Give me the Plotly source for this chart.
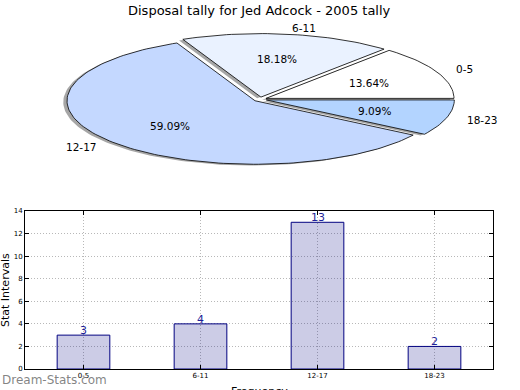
import numpy as np
import plotly.graph_objects as go

# ---- data ----
categories = ["0-5", "6-11", "12-17", "18-23"]
counts = [3, 4, 13, 2]
pie_colors = ["#ffffff", "#eaf2ff", "#c4d8ff", "#b3d4ff"]
title_text = "Disposal tally for Jed Adcock - 2005 tally"
y_ticks = [0, 2, 4, 6, 8, 10, 12, 14]

W, H = 520, 390
explode = 0.035
shadow_dx, shadow_dy = -0.02, -0.02

fig = go.Figure()

total = float(sum(counts))
fracs = [c / total for c in counts]
starts = np.concatenate([[0.0], np.cumsum(fracs)[:-1]]) * 360.0
ends = np.cumsum(fracs) * 360.0


def wedge(t1, t2, cx, cy):
    n = max(8, int((t2 - t1) / 1.5))
    th = np.radians(np.linspace(t1, t2, n))
    xs = np.concatenate([[cx], cx + np.cos(th), [cx]])
    ys = np.concatenate([[cy], cy + np.sin(th), [cy]])
    return xs, ys


offsets = []
for t1, t2 in zip(starts, ends):
    mid = np.radians((t1 + t2) / 2)
    offsets.append((explode * np.cos(mid), explode * np.sin(mid)))

# wedge shadows
for (t1, t2), (ox, oy) in zip(zip(starts, ends), offsets):
    xs, ys = wedge(t1, t2, ox + shadow_dx, oy + shadow_dy)
    fig.add_trace(go.Scatter(x=xs, y=ys, xaxis="x2", yaxis="y2", mode="lines",
                             fill="toself", fillcolor="rgba(77,77,77,0.5)",
                             line=dict(width=0), hoverinfo="skip", showlegend=False))
# wedges
for (t1, t2), (ox, oy), col in zip(zip(starts, ends), offsets, pie_colors):
    xs, ys = wedge(t1, t2, ox, oy)
    fig.add_trace(go.Scatter(x=xs, y=ys, xaxis="x2", yaxis="y2", mode="lines",
                             fill="toself", fillcolor=col,
                             line=dict(width=0.8, color="#000000"),
                             hoverinfo="skip", showlegend=False))

annotations = []
for (t1, t2), (ox, oy), cat, f in zip(zip(starts, ends), offsets, categories, fracs):
    mid = np.radians((t1 + t2) / 2)
    px, py = ox + 0.6 * np.cos(mid), oy + 0.6 * np.sin(mid)
    annotations.append(dict(x=px, y=py, xref="x2", yref="y2", text=f"{f*100:.2f}%",
                            showarrow=False, xanchor="center", yanchor="middle",
                            font=dict(size=10.5, color="#000000")))
    lx, ly = ox + 1.1 * np.cos(mid), oy + 1.1 * np.sin(mid)
    annotations.append(dict(x=lx, y=ly, xref="x2", yref="y2", text=cat,
                            showarrow=False,
                            xanchor="left" if np.cos(mid) > 0 else "right",
                            yanchor="middle",
                            font=dict(size=10.5, color="#000000")))

# bars
fig.add_trace(go.Bar(x=categories, y=counts, width=0.45,
                     marker=dict(color="rgba(0,0,128,0.2)",
                                 line=dict(color="#000080", width=1)),
                     hoverinfo="skip", showlegend=False))
for cat, v in zip(categories, counts):
    annotations.append(dict(x=cat, y=v, xref="x", yref="y", text=str(v),
                            showarrow=False, xanchor="center", yanchor="bottom",
                            yshift=-4, font=dict(size=11, color="#1f1f99")))

annotations.append(dict(x=0.5, y=1 - 10 / H, xref="paper", yref="paper", text=title_text,
                        showarrow=False, xanchor="center", yanchor="middle",
                        xshift=-1, font=dict(size=13, color="#000000")))
annotations.append(dict(x=259 / W, y=1 - 383 / H, xref="paper", yref="paper",
                        text="Frequency", showarrow=False, xanchor="center",
                        yanchor="top", font=dict(size=11, color="#000000")))
annotations.append(dict(x=5 / W, y=1 - 290 / H, xref="paper", yref="paper",
                        text="Stat Intervals", textangle=-90, showarrow=False,
                        xanchor="center", yanchor="middle",
                        font=dict(size=11, color="#000000")))
annotations.append(dict(x=0, y=1 - 380 / H, xref="paper", yref="paper",
                        text="Dream-Stats.com", showarrow=False, xanchor="left",
                        yanchor="middle", font=dict(size=12, color="rgba(110,110,110,0.85)")))

a_px, b_px = 188.0, 63.5
cx_px, cy_px = 260.0, 99.3
pie_top, pie_bot = 0.0, 200.0

axis_common = dict(showline=True, linecolor="#000000", linewidth=1, mirror="ticks",
                   ticks="inside", ticklen=4, tickcolor="#000000",
                   showgrid=True, gridcolor="#b8b8b8", griddash="1px,2px", gridwidth=1,
                   zeroline=False, tickfont=dict(size=7, color="#000000"))

fig.update_layout(
    width=W, height=H, margin=dict(l=0, r=0, t=0, b=0),
    paper_bgcolor="#ffffff", plot_bgcolor="#ffffff",
    font=dict(family="DejaVu Sans"),
    showlegend=False,
    xaxis=dict(domain=[25 / W, 493 / W], type="category", range=[-0.5, 3.5],
               anchor="y", automargin=False, **axis_common),
    yaxis=dict(domain=[1 - 369 / H, 1 - 211 / H], range=[0, 14], tickvals=y_ticks,
               anchor="x", automargin=False, **axis_common),
    xaxis2=dict(domain=[0, 1], range=[-cx_px / a_px, (W - cx_px) / a_px],
                visible=False, anchor="y2"),
    yaxis2=dict(domain=[1 - pie_bot / H, 1 - pie_top / H],
                range=[-(pie_bot - cy_px) / b_px, (cy_px - pie_top) / b_px],
                visible=False, anchor="x2"),
    annotations=annotations,
)

fig.write_html("out.html", config={"displayModeBar": False},
               post_script="document.body.style.margin='0';document.body.style.overflow='hidden';")
